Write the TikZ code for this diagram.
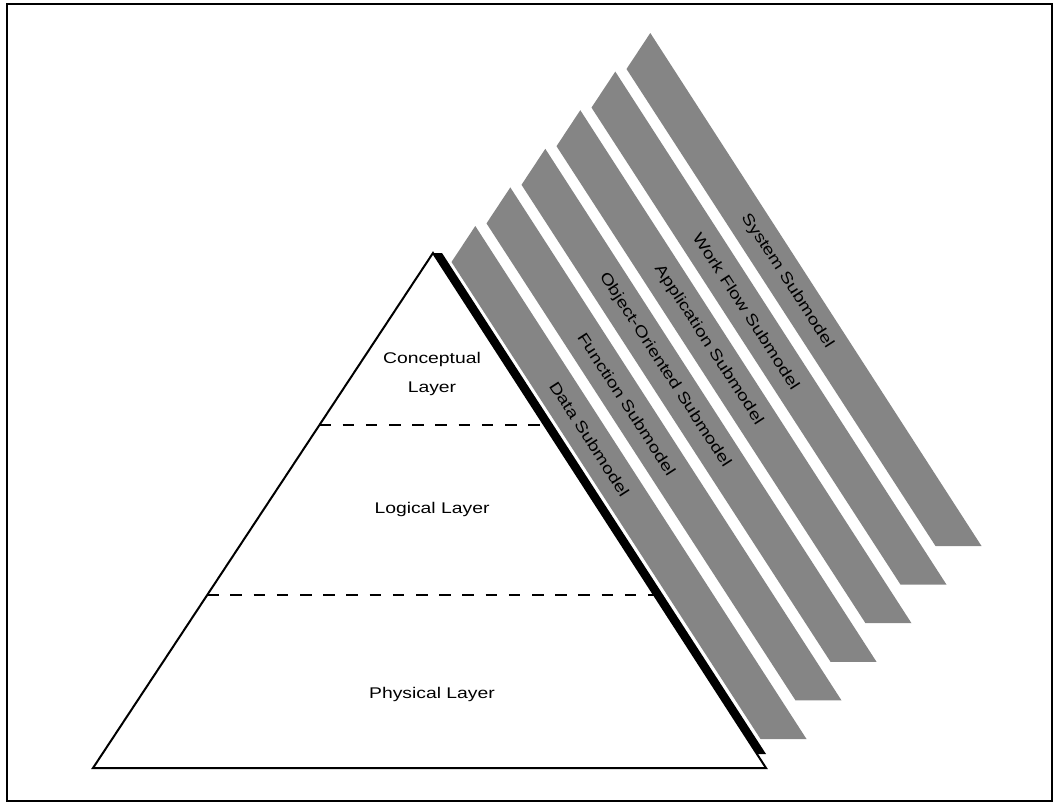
\documentclass[tikz,border=0pt]{standalone}
\usepackage{fontspec}
\setmainfont{Liberation Sans}[FakeStretch=1.25]
\usetikzlibrary{calc}
\begin{document}
\begin{tikzpicture}[x=0.75pt,y=-0.75pt,
  txt/.style={font=\fontsize{11.6}{21.75}\selectfont, inner sep=0pt},
  sublabel/.style={txt, rotate=-57.1, anchor=center},
  band/.style={fill=black!48, draw=none},
  edge/.style={line width=1.5pt, line join=miter},
  divider/.style={line width=1.3pt, dash pattern=on 8.7pt off 8.7pt},
]
\useasboundingbox (0,0) rectangle (1060,803);
% outer frame
\draw[line width=1.8pt] (7,4) rectangle (1052,801);

% corners of the pyramid
\coordinate (apex) at (433,253);
\coordinate (bl) at (93,768);
\coordinate (br) at (766,768);

% six submodel bands, each a copy of the first shifted outwards
\foreach \k in {0,...,5} {
  \begin{scope}[shift={(35*\k,-38.6*\k)}]
    \fill[band] (451.5,262) -- (475.3,226) -- (806.5,739) -- (760.5,739) -- cycle;
  \end{scope}
}

% pyramid outline
\draw[edge] (bl) -- (apex) -- (br) -- cycle;
% heavy right-hand edge
\fill (apex) -- (442,253) -- (766,754) -- (757,754) -- cycle;

% layer dividers
\coordinate (d1l) at ($(apex)!0.334!(bl)$);
\coordinate (d1r) at ($(apex)!0.334!(br)$);
\coordinate (d2l) at ($(apex)!0.664!(bl)$);
\coordinate (d2r) at ($(apex)!0.664!(br)$);
\draw[divider] (d1l) -- (d1r);
\draw[divider] (d2l) -- (d2r);

% layer names
\node[txt, align=center, anchor=north] (concept) at (432,352) {Conceptual\\Layer};
\node[txt, anchor=base] (logical) at (432,513) {Logical Layer};
\node[txt, anchor=base] (physical) at (432,698) {Physical Layer};

% submodel names along the bands
\node[sublabel] (data) at (589.5,439) {Data Submodel};
\node[sublabel] (func) at (626.8,404) {Function Submodel};
\node[sublabel] (oo) at (664.8,370) {Object-Oriented Submodel};
\node[sublabel] (appl) at (708.6,345) {Application Submodel};
\node[sublabel] (wflow) at (746.6,311) {Work Flow Submodel};
\node[sublabel] (sys) at (787.2,281) {System Submodel};
\end{tikzpicture}
\end{document}
